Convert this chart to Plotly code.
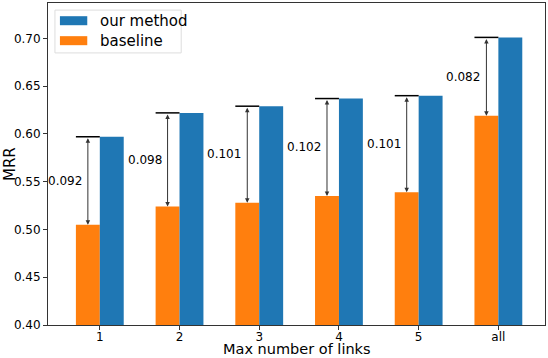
import plotly.graph_objects as go

categories = ["1", "2", "3", "4", "5", "all"]
our_method = [0.597, 0.622, 0.629, 0.637, 0.640, 0.701]
baseline = [0.505, 0.524, 0.528, 0.535, 0.539, 0.619]
gap_labels = ["0.092", "0.098", "0.101", "0.102", "0.101", "0.082"]
y_ticks = [0.40, 0.45, 0.50, 0.55, 0.60, 0.65, 0.70]

BLUE = "#1f77b4"
ORANGE = "#ff7f0e"
FONT = "DejaVu Sans"
W = 0.3

xs = list(range(len(categories)))
x_base = [i - W / 2 for i in xs]
x_ours = [i + W / 2 for i in xs]

fig = go.Figure()
fig.add_trace(go.Bar(x=x_base, y=baseline, width=W, marker=dict(color=ORANGE, line=dict(width=0)),
                     name="baseline", showlegend=False, base=0))
fig.add_trace(go.Bar(x=x_ours, y=our_method, width=W, marker=dict(color=BLUE, line=dict(width=0)),
                     name="our method", showlegend=False, base=0))

shapes = []
annotations = []
for xb, yb, yo, lab in zip(x_base, baseline, our_method, gap_labels):
    # cap line at the level of our method, spanning the baseline bar
    shapes.append(dict(type="line", xref="x", yref="y", x0=xb - W / 2, x1=xb + W / 2,
                       y0=yo, y1=yo, line=dict(color="black", width=1.5)))
    # double headed arrow
    annotations.append(dict(x=xb, y=yb, ax=xb, ay=yo, xref="x", yref="y", axref="x", ayref="y",
                            text="", showarrow=True, arrowside="end+start", arrowhead=2,
                            arrowsize=0.9, arrowwidth=1, arrowcolor="#333333", standoff=0,
                            startstandoff=0))
    annotations.append(dict(x=xb, y=(yb + yo) / 2, xref="x", yref="y", text=lab, showarrow=False,
                            xanchor="right", yanchor="middle", xshift=-4,
                            font=dict(family=FONT, size=12, color="black")))

# legend drawn by hand to get matplotlib-like wide patches
shapes.append(dict(type="rect", xref="paper", yref="paper", x0=0.014, x1=0.268, y0=0.845, y1=0.978,
                   line=dict(color="#dddddd", width=1), fillcolor="white", layer="above"))
for i, (name, col) in enumerate([("our method", BLUE), ("baseline", ORANGE)]):
    yc = 0.945 - i * 0.062
    shapes.append(dict(type="rect", xref="paper", yref="paper", x0=0.024, x1=0.079,
                       y0=yc - 0.014, y1=yc + 0.014, line=dict(width=0), fillcolor=col, layer="above"))
    annotations.append(dict(x=0.1, y=yc, xref="paper", yref="paper", text=name, showarrow=False,
                            xanchor="left", yanchor="middle",
                            font=dict(family=FONT, size=15, color="black")))

# axis titles
annotations.append(dict(x=0.5, y=0, xref="paper", yref="paper", text="Max number of links",
                        showarrow=False, xanchor="center", yanchor="bottom", yshift=-33, borderpad=0,
                        font=dict(family=FONT, size=14.5, color="black")))
annotations.append(dict(x=0, y=0.5, xref="paper", yref="paper", text="MRR", textangle=-90,
                        showarrow=False, xanchor="center", yanchor="middle", xshift=-38,
                        font=dict(family=FONT, size=15, color="black")))

axis_common = dict(showline=True, linecolor="#333333", linewidth=1, mirror=True, automargin=False,
                   ticks="outside", ticklen=4, tickcolor="#333333", showgrid=False, zeroline=False,
                   tickfont=dict(family=FONT, size=12, color="black"))

fig.update_layout(
    width=548, height=358,
    margin=dict(l=48, r=3, t=3, b=33),
    plot_bgcolor="white", paper_bgcolor="white",
    barmode="overlay", showlegend=False,
    shapes=shapes, annotations=annotations,
    xaxis=dict(range=[-0.65, 5.585], tickvals=xs, ticktext=categories, ticklabelstandoff=-3,
               **axis_common),
    yaxis=dict(range=[0.40, 0.737], tickvals=y_ticks, tickformat=".2f", **axis_common),
)

# drop the default 8px body margin so the figure sits flush in the window
fig.write_html("out.html", config={"displayModeBar": False},
               post_script="document.body.style.margin='0';document.body.style.overflow='hidden';")
